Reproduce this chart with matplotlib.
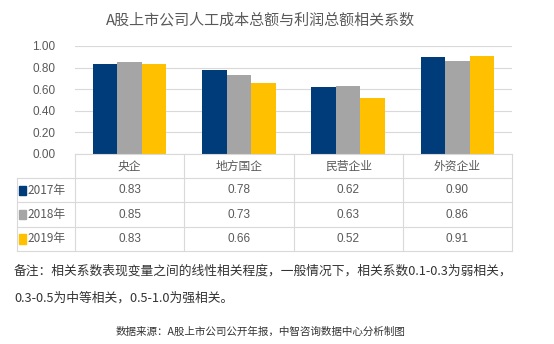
import numpy as np
import matplotlib.pyplot as plt
from matplotlib.patches import Rectangle

plt.rcParams['font.family'] = ['Noto Sans CJK SC', 'DejaVu Sans']

categories = ['央企', '地方国企', '民营企业', '外资企业']
years = ['2017年', '2018年', '2019年']
values_2017 = [0.83, 0.78, 0.62, 0.90]
values_2018 = [0.85, 0.73, 0.63, 0.86]
values_2019 = [0.83, 0.66, 0.52, 0.91]
series = [values_2017, values_2018, values_2019]
colors = ['#003b7a', '#a5a5a5', '#ffc000']
yticks = [0.0, 0.2, 0.4, 0.6, 0.8, 1.0]

W, H = 554, 344
fig = plt.figure(figsize=(W / 100, H / 100), dpi=100)
text_color = '#595959'
line_color = '#d9d9d9'


def px_axes(x0, y0, x1, y1):
    # pixel box (top-left origin) -> figure axes
    return fig.add_axes([x0 / W, 1 - y1 / H, (x1 - x0) / W, (y1 - y0) / H])


# bar chart
ax = px_axes(75, 46, 512, 154)
x = np.arange(len(categories))
bw = 0.225
for i, vals in enumerate(series):
    ax.bar(x + (i - 1) * bw, vals, width=bw, color=colors[i], zorder=3)
ax.set_xlim(-0.5, len(categories) - 0.5)
ax.set_ylim(0, 1.0)
ax.set_yticks(yticks)
ax.set_yticklabels(['%.2f' % t for t in yticks], fontsize=8.5, color=text_color,
                   family=['Liberation Sans', 'DejaVu Sans'])
ax.tick_params(axis='y', length=0, pad=14)
ax.set_xticks([])
ax.grid(axis='y', color=line_color, linewidth=0.8, zorder=0)
ax.set_axisbelow(True)
for s in ax.spines.values():
    s.set_visible(False)

fig.text(261 / W, 1 - 20 / H, 'A股上市公司人工成本总额与利润总额相关系数',
         ha='center', va='center', fontsize=10.8, color=text_color)

# data table under the bars
tx = px_axes(17, 154, 512, 251)
legend_w = (75 - 17) / 109
tx.set_xlim(-0.5 - legend_w, len(categories) - 0.5)
n_rows = len(years) + 1
tx.set_ylim(n_rows, 0)
tx.axis('off')

lw = 0.8
# horizontal lines
tx.plot([-0.5, len(categories) - 0.5], [0, 0], color=line_color, lw=lw, clip_on=False)
for r in range(1, n_rows + 1):
    tx.plot([-0.5 - legend_w, len(categories) - 0.5], [r, r], color=line_color, lw=lw, clip_on=False)
# vertical lines
for c in range(len(categories) + 1):
    tx.plot([c - 0.5, c - 0.5], [0, n_rows], color=line_color, lw=lw, clip_on=False)
tx.plot([-0.5 - legend_w] * 2, [1, n_rows], color=line_color, lw=lw, clip_on=False)

for c, name in enumerate(categories):
    tx.text(c, 0.5, name, ha='center', va='center', fontsize=8.5, color=text_color)
for r, (yr, vals) in enumerate(zip(years, series)):
    tx.add_patch(Rectangle((-0.5 - legend_w + 0.02, r + 1.5 - 0.2), 0.06, 0.4,
                           color=colors[r], clip_on=False))
    tx.text(-0.5 - legend_w + 0.1, r + 1.5, yr, ha='left', va='center',
            fontsize=8.5, color=text_color)
    for c, v in enumerate(vals):
        tx.text(c, r + 1.5, '%.2f' % v, ha='center', va='center', fontsize=8.5,
                color=text_color, family=['Liberation Sans', 'DejaVu Sans'])

fig.text(14 / W, 1 - 271 / H,
         '备注：相关系数表现变量之间的线性相关程度，一般情况下，相关系数0.1-0.3为弱相关，',
         ha='left', va='center', fontsize=9.2, color='#333333')
fig.text(14 / W, 1 - 298 / H, '0.3-0.5为中等相关，0.5-1.0为强相关。',
         ha='left', va='center', fontsize=9.2, color='#333333')
fig.text(261 / W, 1 - 332 / H, '数据来源：A股上市公司公开年报，中智咨询数据中心分析制图',
         ha='center', va='center', fontsize=7.6, color='#333333')

fig.savefig('out.png', dpi=100, facecolor='white')
